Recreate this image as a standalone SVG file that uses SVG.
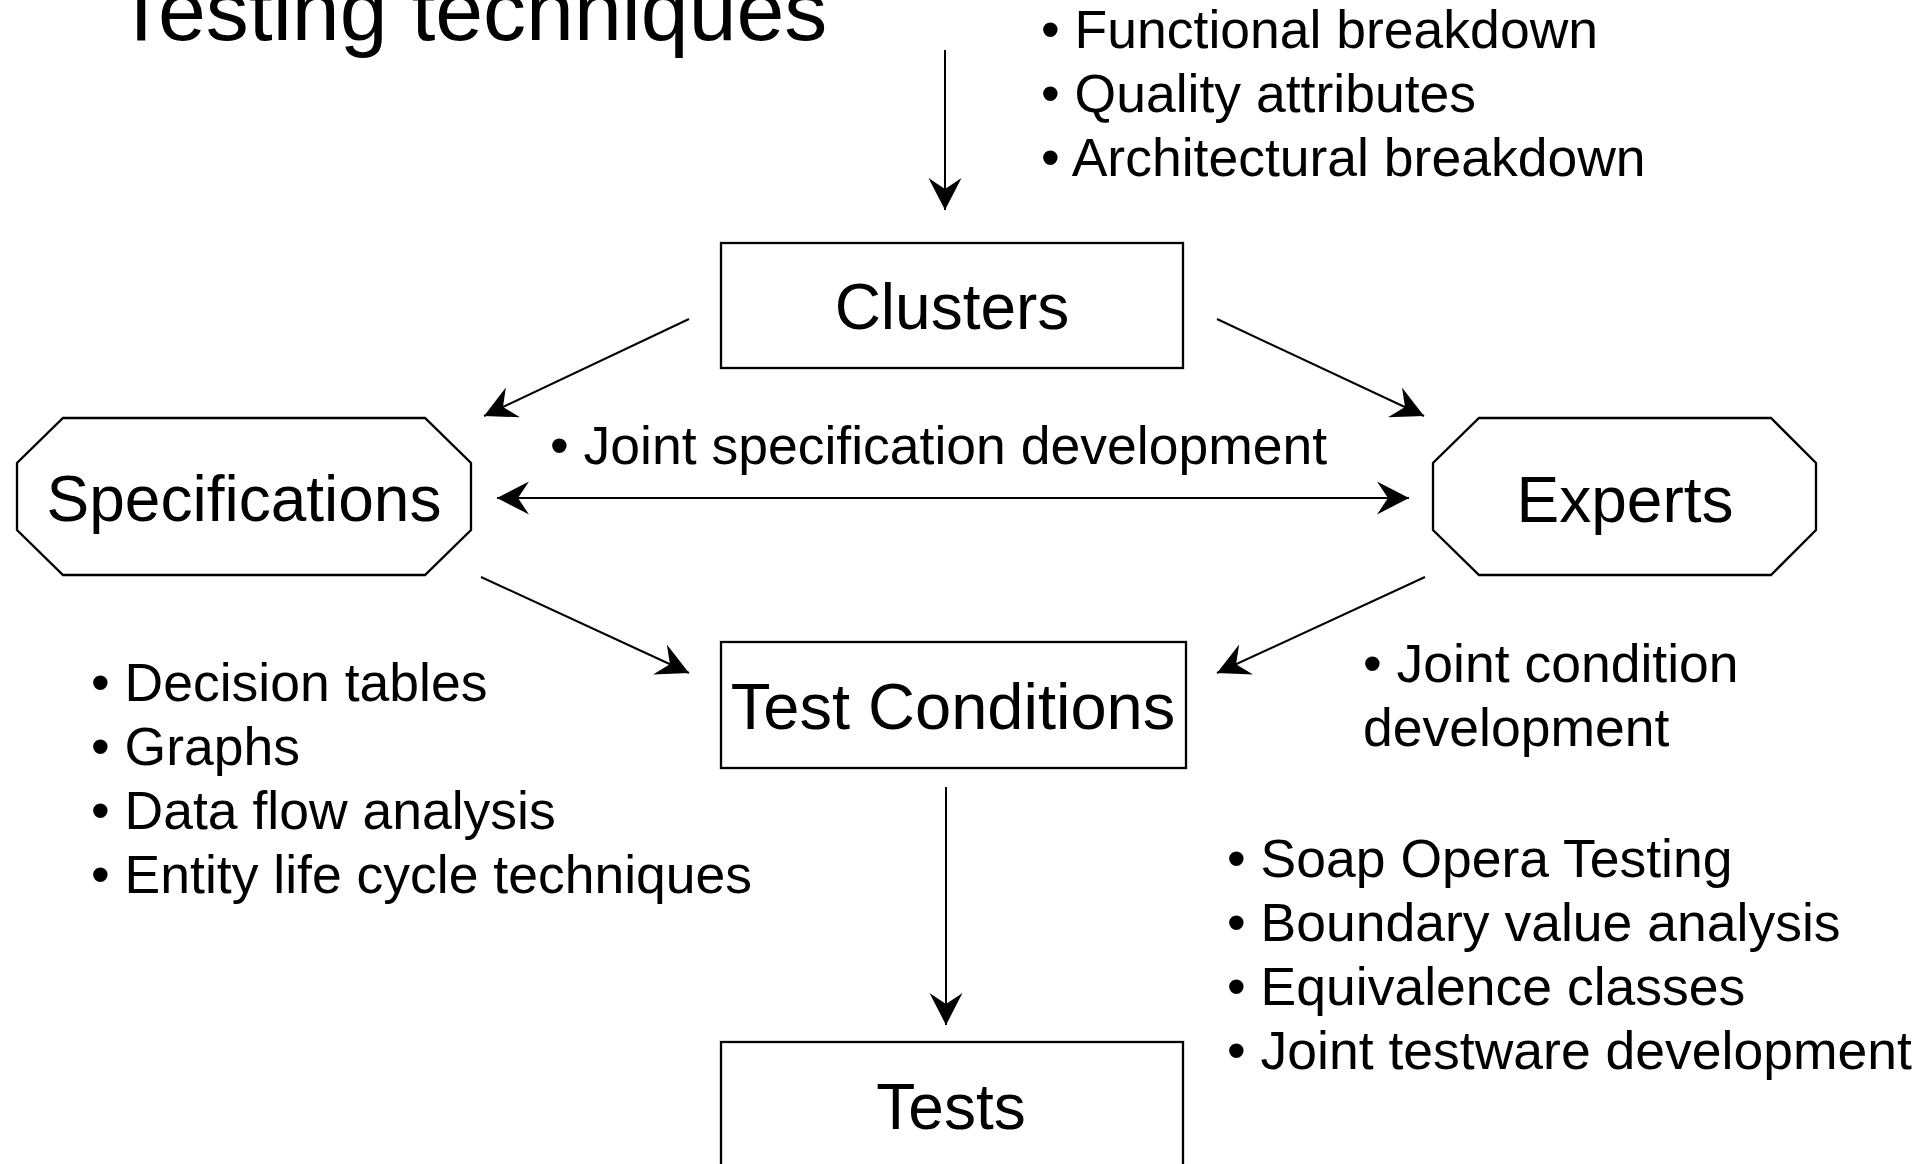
<svg xmlns="http://www.w3.org/2000/svg" width="1931" height="1164" viewBox="0 0 1931 1164" font-family="'Liberation Sans', Arimo, Arial, Helvetica, sans-serif">
<style>
text{fill:#000}
.title{font-size:86px}
.lbl{font-size:64px;text-anchor:middle}
.bul{font-size:53.5px}
.box{fill:#fff;stroke:#000;stroke-width:2.3}
.edge{fill:none;stroke:#000;stroke-width:2}
</style>
<defs>
<marker id="ah" markerUnits="userSpaceOnUse" markerWidth="36" markerHeight="36" viewBox="-34 -18 36 36" refX="0" refY="0" orient="auto-start-reverse">
<path d="M0,0 L-32,-16.5 L-21,0 L-32,16.5 Z" fill="#000"/>
</marker>
</defs>
<rect width="1931" height="1164" fill="#fff"/>
<text class="title" x="115" y="40" font-family="'Liberation Sans', Arimo, Arial, sans-serif">Testing techniques</text>
<g id="connectors">
<line class="edge" x1="945" y1="50" x2="945" y2="210" marker-end="url(#ah)"/>
<line class="edge" x1="689" y1="319" x2="484" y2="416" marker-end="url(#ah)"/>
<line class="edge" x1="1217" y1="319" x2="1424" y2="416" marker-end="url(#ah)"/>
<line class="edge" x1="497" y1="498" x2="1409" y2="498" marker-start="url(#ah)" marker-end="url(#ah)"/>
<line class="edge" x1="481" y1="577" x2="689" y2="673" marker-end="url(#ah)"/>
<line class="edge" x1="1425" y1="577" x2="1217" y2="673" marker-end="url(#ah)"/>
<line class="edge" x1="946" y1="787" x2="946" y2="1025" marker-end="url(#ah)"/>
</g>
<g id="clusters" font-family="'Liberation Sans', Arimo, Arial, sans-serif">
<rect class="box" x="721" y="243" width="462" height="125"/>
<text class="lbl" x="952" y="329">Clusters</text>
</g>
<g id="specifications" font-family="'Liberation Sans', Arimo, Arial, sans-serif">
<polygon class="box" points="63,418 425,418 471,463 471,530 425,575 63,575 17,530 17,463"/>
<text class="lbl" x="244" y="521">Specifications</text>
</g>
<g id="experts" font-family="'Liberation Sans', Arimo, Arial, sans-serif">
<polygon class="box" points="1479,418 1771,418 1816,463 1816,530 1771,575 1479,575 1433,530 1433,463"/>
<text class="lbl" x="1625" y="522">Experts</text>
</g>
<g id="test-conditions" font-family="'Liberation Sans', Arimo, Arial, sans-serif">
<rect class="box" x="721" y="642" width="465" height="126"/>
<text class="lbl" x="953" y="729" style="font-size:65px">Test Conditions</text>
</g>
<g id="tests" font-family="'Liberation Sans', Arimo, Arial, sans-serif">
<rect class="box" x="721" y="1042" width="462" height="200"/>
<text class="lbl" x="951" y="1129">Tests</text>
</g>
<g id="notes" font-family="'Liberation Sans', Arimo, Arial, sans-serif">
<text class="bul" x="1041" y="48">• Functional breakdown</text>
<text class="bul" x="1041" y="112">• Quality attributes</text>
<text class="bul" x="1041" y="176">• Architectural breakdown</text>
<text class="bul" x="550" y="464">• Joint specification development</text>
<text class="bul" x="91" y="701">• Decision tables</text>
<text class="bul" x="91" y="765">• Graphs</text>
<text class="bul" x="91" y="829">• Data flow analysis</text>
<text class="bul" x="91" y="893">• Entity life cycle techniques</text>
<text class="bul" x="1363" y="682">• Joint condition</text>
<text class="bul" x="1363" y="746">development</text>
<text class="bul" x="1227" y="877">• Soap Opera Testing</text>
<text class="bul" x="1227" y="941">• Boundary value analysis</text>
<text class="bul" x="1227" y="1005">• Equivalence classes</text>
<text class="bul" x="1227" y="1069">• Joint testware development</text>
</g>
</svg>
